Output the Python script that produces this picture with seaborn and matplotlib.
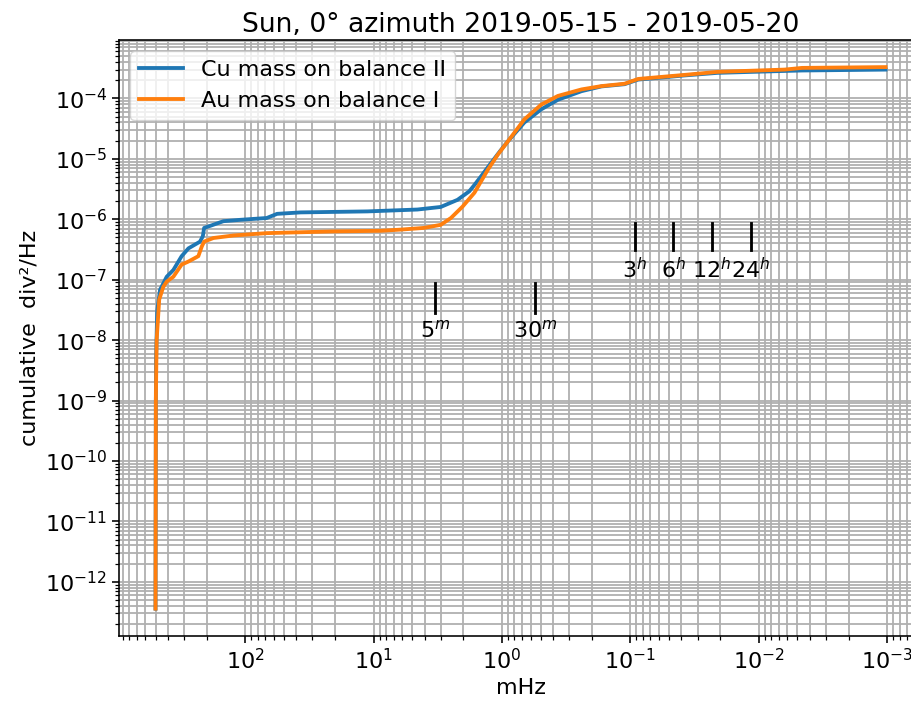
import matplotlib
matplotlib.use("Agg")
import matplotlib.pyplot as plt
import seaborn as sns
import pandas as pd

# ---- data ----
cu_freq = [500, 497, 495, 485, 461, 409, 363, 313, 277, 225, 214, 209, 187, 148, 109, 68,
           56.5, 37, 11.2, 4.56, 3.0, 2.22, 1.80, 1.64, 1.46, 1.22, 1.02, 0.90, 0.67,
           0.495, 0.367, 0.24, 0.168, 0.111, 0.087, 0.038, 0.021, 0.0063, 0.0046, 0.00103]
cu_vals = [3.6e-13, 1e-9, 5e-9, 3e-8, 6.8e-8, 1.12e-7, 1.45e-7, 2.45e-7, 3.3e-7, 4.27e-7,
           5.25e-7, 7.2e-7, 7.8e-7, 9.3e-7, 9.8e-7, 1.05e-6, 1.23e-6, 1.3e-6, 1.35e-6,
           1.45e-6, 1.6e-6, 2.1e-6, 2.9e-6, 3.7e-6, 5.1e-6, 8.5e-6, 1.4e-5, 1.95e-5,
           4.0e-5, 6.6e-5, 9.5e-5, 1.32e-4, 1.58e-4, 1.72e-4, 2.05e-4, 2.4e-4, 2.65e-4,
           2.85e-4, 2.9e-4, 3.0e-4]

au_freq = [500, 497, 490, 468, 435, 409, 363, 313, 277, 232, 218, 209, 177, 123, 68, 20.6,
           8.8, 6.15, 4.05, 3.0, 2.5, 2.03, 1.64, 1.29, 1.08, 0.90, 0.67, 0.495, 0.367,
           0.24, 0.168, 0.111, 0.087, 0.038, 0.021, 0.0063, 0.0046, 0.00103]
au_vals = [3.6e-13, 1e-9, 1e-8, 4.7e-8, 7.6e-8, 9.3e-8, 1.12e-7, 1.78e-7, 2.0e-7, 2.45e-7,
           3.55e-7, 4.27e-7, 4.9e-7, 5.4e-7, 5.9e-7, 6.3e-7, 6.45e-7, 6.75e-7, 7.2e-7,
           8.1e-7, 1.05e-6, 1.62e-6, 2.75e-6, 6.6e-6, 1.17e-5, 1.95e-5, 4.5e-5, 7.9e-5,
           1.1e-4, 1.41e-4, 1.6e-4, 1.75e-4, 2.1e-4, 2.45e-4, 2.75e-4, 3.0e-4, 3.2e-4, 3.3e-4]

series_names = ["Cu mass on balance II", "Au mass on balance I"]

# period markers (frequency in mHz)
min_marker_freq = [1000.0 / 300, 1000.0 / 1800]
min_marker_text = ["5$^m$", "30$^m$"]
hour_marker_freq = [1000.0 / 10800, 1000.0 / 21600, 1000.0 / 43200, 1000.0 / 86400]
hour_marker_text = ["3$^h$", "6$^h$", "12$^h$", "24$^h$"]
min_bar_y = (2.8e-8, 8.9e-8)
min_label_y = 2.2e-8
hour_bar_y = (3.1e-7, 8.8e-7)
hour_label_y = 2.4e-7

# ---- styling ----
S = 1.6
L = 1.45
plt.rcParams.update({
    "font.size": 10 * S,
    "axes.titlesize": 12 * S,
    "axes.linewidth": 0.8 * L,
    "grid.linewidth": 0.9 * L,
    "grid.color": "#b0b0b0",
    "xtick.major.size": 3.5 * L, "ytick.major.size": 3.5 * L,
    "xtick.minor.size": 2 * L, "ytick.minor.size": 2 * L,
    "xtick.major.width": 0.8 * L, "ytick.major.width": 0.8 * L,
    "xtick.minor.width": 0.6 * L, "ytick.minor.width": 0.6 * L,
    "legend.fontsize": 10 * S,
})
plt.rcParams["font.family"] = ["DejaVu Sans"]

df = pd.concat([
    pd.DataFrame({"freq": cu_freq, "val": cu_vals, "series": series_names[0]}),
    pd.DataFrame({"freq": au_freq, "val": au_vals, "series": series_names[1]}),
], ignore_index=True)

fig = plt.figure(figsize=(9.12, 7.07), dpi=100)
ax = fig.add_axes([0.1305, 0.1008, 0.8805, 0.8426])

sns.lineplot(data=df, x="freq", y="val", hue="series", hue_order=series_names,
             palette=["#1f77b4", "#ff7f0e"], sort=False, estimator=None,
             linewidth=1.9 * L, ax=ax)

ax.set_xscale("log")
ax.set_yscale("log")
ax.invert_xaxis()
ax.grid(True, which="both")
ax.set_axisbelow(True)

for f, t in zip(min_marker_freq, min_marker_text):
    ax.plot([f, f], list(min_bar_y), color="black", linewidth=1.4 * L)
    ax.text(f, min_label_y, t, ha="center", va="top")
for f, t in zip(hour_marker_freq, hour_marker_text):
    ax.plot([f, f], list(hour_bar_y), color="black", linewidth=1.4 * L)
    ax.text(f, hour_label_y, t, ha="center", va="top")

ax.set_xlabel("mHz")
ax.set_ylabel("cumulative  div²/Hz")
ax.set_title("Sun, 0° azimuth 2019-05-15 - 2019-05-20")
ax.legend(loc="upper left", title=None)

fig.savefig("out.png", dpi=100)
